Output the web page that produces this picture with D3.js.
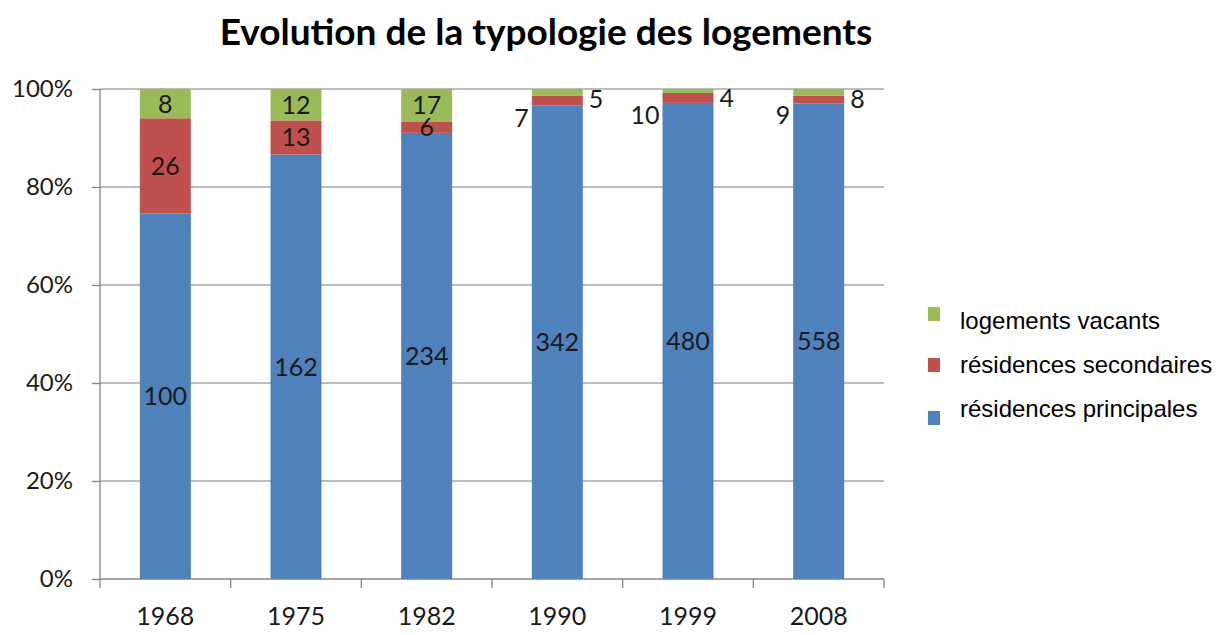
<!DOCTYPE html>
<html>
<head>
<meta charset="utf-8">
<script src="https://cdn.jsdelivr.net/npm/d3@7"></script>
<style>
  body { margin: 0; background: #fff; }
  svg { display: block; }
</style>
</head>
<body>
<svg id="chart"></svg>
<script>
// Data
var years = ["1968", "1975", "1982", "1990", "1999", "2008"];
var principales = [100, 162, 234, 342, 480, 558];
var secondaires = [26, 13, 6, 7, 10, 9];
var vacants = [8, 12, 17, 5, 4, 8];
var seriesNames = ["résidences principales", "résidences secondaires", "logements vacants"];
var seriesColors = ["#4F81BD", "#C0504D", "#9BBB59"];
var yTicks = [0, 0.2, 0.4, 0.6, 0.8, 1];

var svgWidth = 1216;
var svgHeight = 635;
var numFont = "Lato, 'Open Sans', sans-serif";

var svg = d3.select("#chart")
  .attr("width", svgWidth)
  .attr("height", svgHeight);

// Build rows for the stack
var rows = years.map(function (y, i) {
  var total = principales[i] + secondaires[i] + vacants[i];
  return {
    year: y,
    total: total,
    p: principales[i] / total,
    s: secondaires[i] / total,
    v: vacants[i] / total,
    raw: [principales[i], secondaires[i], vacants[i]]
  };
});

var stack = d3.stack().keys(["p", "s", "v"]);
var stacked = stack(rows);

var xScale = d3.scaleBand()
  .domain(years)
  .range([100, 884])
  .paddingInner(0.61)
  .paddingOuter(0.305);

var yScale = d3.scaleLinear()
  .domain([0, 1])
  .range([579, 89]);

// Gridlines
svg.append("g")
  .selectAll("line")
  .data(yTicks.filter(function (d) { return d > 0; }))
  .enter()
  .append("line")
  .attr("x1", 100)
  .attr("x2", 884)
  .attr("y1", function (d) { return yScale(d); })
  .attr("y2", function (d) { return yScale(d); })
  .attr("stroke", "#a6a6a6")
  .attr("stroke-width", 1.3);

// Y axis
var yAxis = svg.append("g")
  .attr("transform", "translate(100,0)")
  .call(d3.axisLeft(yScale).tickValues(yTicks).tickFormat(d3.format(".0%")).tickSize(8).tickPadding(19));
yAxis.selectAll("line, path").attr("stroke", "#868686").attr("stroke-width", 1.3);
yAxis.select(".domain").attr("d", "M0,579V89");
yAxis.selectAll("text")
  .attr("font-family", numFont)
  .attr("font-size", 24)
  .attr("fill", "#1a1a1a");

// X axis: ticks between categories
var xAxis = svg.append("g")
  .attr("transform", "translate(0,579)");
xAxis.append("line")
  .attr("x1", 100).attr("x2", 884)
  .attr("stroke", "#868686").attr("stroke-width", 1.3);
var step = xScale.step();
xAxis.selectAll(".tick")
  .data(d3.range(years.length + 1))
  .enter()
  .append("line")
  .attr("x1", function (i) { return 100 + i * step; })
  .attr("x2", function (i) { return 100 + i * step; })
  .attr("y1", 0)
  .attr("y2", 9)
  .attr("stroke", "#868686").attr("stroke-width", 1.3);
xAxis.selectAll("text")
  .data(years)
  .enter()
  .append("text")
  .attr("x", function (d) { return xScale(d) + xScale.bandwidth() / 2; })
  .attr("y", 46)
  .attr("text-anchor", "middle")
  .attr("font-family", numFont)
  .attr("font-size", 25)
  .attr("fill", "#1a1a1a")
  .text(function (d) { return d; });

// Bars
var layers = svg.append("g")
  .selectAll("g")
  .data(stacked)
  .enter()
  .append("g")
  .attr("fill", function (d, i) { return seriesColors[i]; });

layers.selectAll("rect")
  .data(function (d) { return d; })
  .enter()
  .append("rect")
  .attr("x", function (d) { return xScale(d.data.year); })
  .attr("y", function (d) { return yScale(d[1]); })
  .attr("width", xScale.bandwidth())
  .attr("height", function (d) { return yScale(d[0]) - yScale(d[1]); });

// Value labels; tiny segments get pushed outside the bar
var labels = svg.append("g")
  .attr("font-family", numFont)
  .attr("font-size", 25)
  .attr("fill", "#1a1a1a");

stacked.forEach(function (layer, li) {
  layer.forEach(function (d) {
    var share = d[1] - d[0];
    var value = d.data.raw[li];
    var left = xScale(d.data.year);
    var right = left + xScale.bandwidth();
    var x = left + xScale.bandwidth() / 2;
    var y = (yScale(d[0]) + yScale(d[1])) / 2;
    var anchor = "middle";
    if (share < 0.022 && li === 1) {
      x = left - 3;
      y = yScale(d[0]) + 12;
      anchor = "end";
    } else if (share < 0.022 && li === 2) {
      x = right + 6;
      y = y + 7;
      anchor = "start";
    }
    labels.append("text")
      .attr("x", x)
      .attr("y", y)
      .attr("dy", "0.36em")
      .attr("text-anchor", anchor)
      .text(value);
  });
});

// Title
svg.append("text")
  .attr("x", 546)
  .attr("y", 45)
  .attr("text-anchor", "middle")
  .attr("font-family", numFont)
  .attr("font-weight", "bold")
  .attr("font-size", 37)
  .attr("fill", "#000")
  .text("Evolution de la typologie des logements");

// Legend (top entry is the top of the stack)
var legendRows = [2, 1, 0];
var legendBase = [329, 373, 417];
var legendBox = [307, 358, 411];
var legend = svg.append("g")
  .selectAll("g")
  .data(legendRows)
  .enter()
  .append("g");
legend.append("rect")
  .attr("x", 928)
  .attr("y", function (d, i) { return legendBox[i]; })
  .attr("width", 12)
  .attr("height", 14)
  .attr("fill", function (d) { return seriesColors[d]; });
legend.append("text")
  .attr("x", 960)
  .attr("y", function (d, i) { return legendBase[i]; })
  .attr("font-family", "'Liberation Sans', Arial, sans-serif")
  .attr("font-size", 24)
  .attr("fill", "#000")
  .text(function (d) { return seriesNames[d]; });
</script>
</body>
</html>
